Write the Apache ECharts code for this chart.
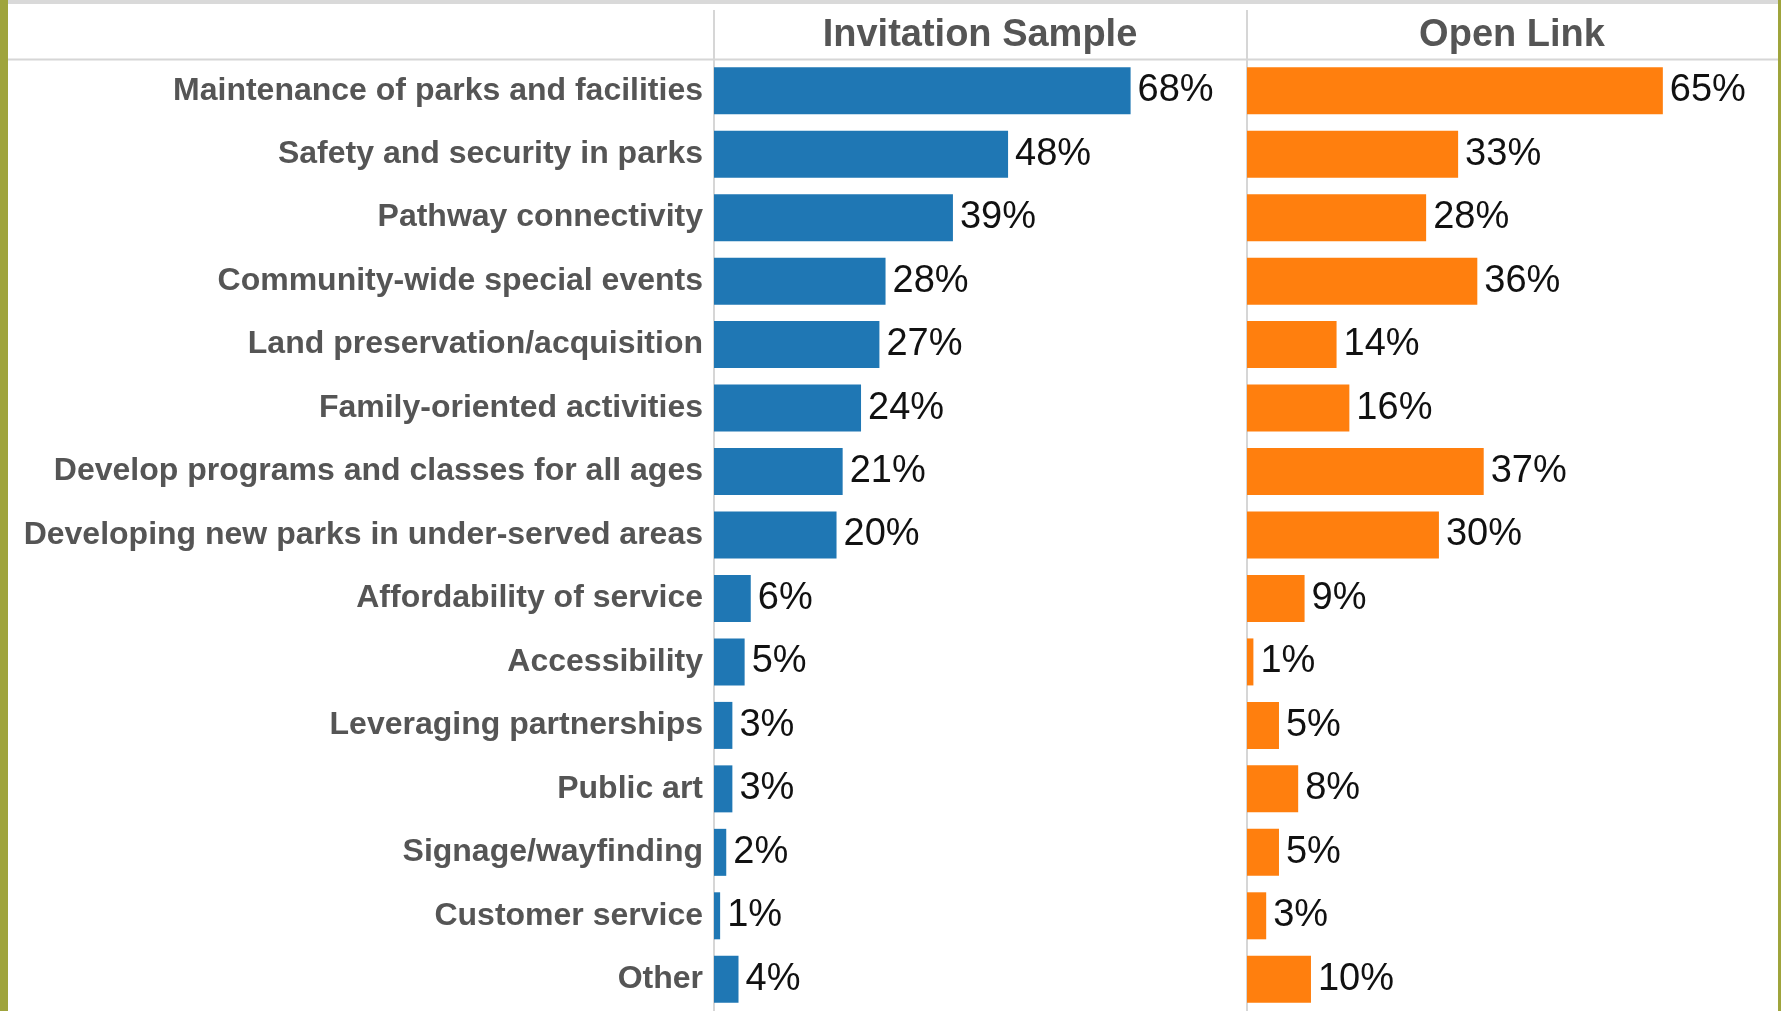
<!DOCTYPE html>
<html>
<head>
<meta charset="utf-8">
<title>Priorities</title>
<script src="https://cdn.jsdelivr.net/npm/echarts@6/dist/echarts.min.js"></script>
<style>
html, body {
  margin: 0;
  padding: 0;
  background: #fff;
}
#chart {
  width: 1781px;
  height: 1011px;
}
</style>
</head>
<body>
<div id="chart"></div>
<script>
const categories = [
  'Maintenance of parks and facilities',
  'Safety and security in parks',
  'Pathway connectivity',
  'Community-wide special events',
  'Land preservation/acquisition',
  'Family-oriented activities',
  'Develop programs and classes for all ages',
  'Developing new parks in under-served areas',
  'Affordability of service',
  'Accessibility',
  'Leveraging partnerships',
  'Public art',
  'Signage/wayfinding',
  'Customer service',
  'Other'
]
const panelTitles = ['Invitation Sample', 'Open Link']
const invitationSample = [68, 48, 39, 28, 27, 24, 21, 20, 6, 5, 3, 3, 2, 1, 4]
const openLink = [65, 33, 28, 36, 14, 16, 37, 30, 9, 1, 5, 8, 5, 3, 10]

const FONT = '"Liberation Sans", Arial, sans-serif'
const LINE = '#d6d6d6'

const chart = echarts.init(document.getElementById('chart'))

// two panels side by side, each with its own x scale (as in the original)
const grids = [
  { left: 714, top: 59, width: 533, height: 955.5 },
  { left: 1247, top: 59, width: 531, height: 955.5 }
]
const maxes = [87, 83]

const yAxes = grids.map((g, i) => ({
  type: 'category',
  gridIndex: i,
  data: categories,
  inverse: true,
  axisLine: { show: false },
  axisTick: { show: false },
  splitLine: { show: false },
  axisLabel: {
    show: i === 0,
    margin: 11,
    color: '#555555',
    fontFamily: FONT,
    fontWeight: 'bold',
    fontSize: 32
  }
}))

const xAxes = grids.map((g, i) => ({
  type: 'value',
  gridIndex: i,
  min: 0,
  max: maxes[i],
  show: false
}))

const makeSeries = (name, data, idx, color) => ({
  name,
  type: 'bar',
  xAxisIndex: idx,
  yAxisIndex: idx,
  data,
  barWidth: 47,
  itemStyle: { color },
  label: {
    show: true,
    position: 'right',
    distance: 7,
    color: '#111111',
    fontFamily: FONT,
    fontSize: 38,
    formatter: (p) => p.value + '%'
  }
})

chart.setOption({
  animation: false,
  backgroundColor: '#ffffff',
  grid: grids,
  xAxis: xAxes,
  yAxis: yAxes,
  series: [
    makeSeries(panelTitles[0], invitationSample, 0, '#1f77b4'),
    makeSeries(panelTitles[1], openLink, 1, '#ff7f0e')
  ],
  graphic: [
    // frame: top band, side strips, header rule, panel dividers
    { type: 'rect', shape: { x: 0, y: 0, width: 1781, height: 4 }, style: { fill: '#d9d9d9' }, silent: true },
    { type: 'rect', shape: { x: 0, y: 0, width: 8, height: 1011 }, style: { fill: '#9fa43c' }, silent: true },
    { type: 'rect', shape: { x: 1778, y: 0, width: 3, height: 1011 }, style: { fill: '#9fa43c' }, silent: true },
    { type: 'line', shape: { x1: 8, y1: 59.5, x2: 1778, y2: 59.5 }, style: { stroke: LINE, lineWidth: 2 }, silent: true },
    { type: 'line', shape: { x1: 714, y1: 10, x2: 714, y2: 1011 }, style: { stroke: LINE, lineWidth: 2 }, silent: true },
    { type: 'line', shape: { x1: 1247, y1: 10, x2: 1247, y2: 1011 }, style: { stroke: LINE, lineWidth: 2 }, silent: true },
    {
      type: 'text',
      x: 980,
      y: 36,
      style: {
        text: panelTitles[0],
        fill: '#555555',
        font: 'bold 38px ' + FONT,
        textAlign: 'center',
        textVerticalAlign: 'middle'
      }
    },
    {
      type: 'text',
      x: 1512,
      y: 36,
      style: {
        text: panelTitles[1],
        fill: '#555555',
        font: 'bold 38px ' + FONT,
        textAlign: 'center',
        textVerticalAlign: 'middle'
      }
    }
  ]
})
</script>
</body>
</html>
